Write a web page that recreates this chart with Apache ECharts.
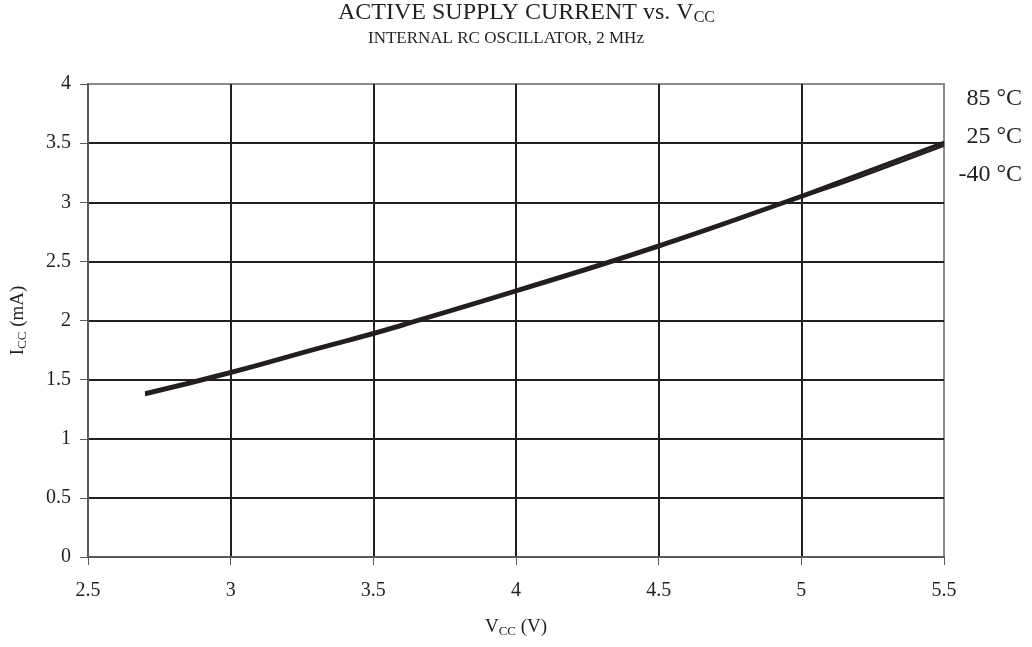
<!DOCTYPE html>
<html>
<head>
<meta charset="utf-8">
<script src="https://cdn.jsdelivr.net/npm/echarts@6/dist/echarts.min.js"></script>
<style>html,body{margin:0;padding:0;background:#fff}#c{width:1032px;height:647px}</style>
</head>
<body>
<div id="c"></div>
<script>
const vcc = [2.7, 3.0, 3.3, 3.5, 3.6, 4.0, 4.5, 5.0, 5.2, 5.5];
const icc85 = [1.39, 1.57, 1.77, 1.90, 1.97, 2.26, 2.64, 3.06, 3.24, 3.51];
const icc25 = [1.38, 1.56, 1.76, 1.89, 1.96, 2.25, 2.63, 3.05, 3.23, 3.50];
const iccm40 = [1.37, 1.55, 1.75, 1.88, 1.95, 2.24, 2.62, 3.04, 3.21, 3.48];
const seriesNames = ['85 °C', '25 °C', '-40 °C'];
const xTicks = [2.5, 3, 3.5, 4, 4.5, 5, 5.5];
const yTicks = [0, 0.5, 1, 1.5, 2, 2.5, 3, 3.5, 4];

const font = '"Liberation Serif", "Times New Roman", serif';
const lineColor = '#231f20';
const textColor = '#231f20';
const pair = arr => vcc.map((v, i) => [v, arr[i]]);
const allData = [icc85, icc25, iccm40];

const chart = echarts.init(document.getElementById('c'));
chart.setOption({
  animation: false,
  backgroundColor: '#fff',
  title: [{
    text: 'ACTIVE SUPPLY CURRENT vs. V{sub|CC}',
    left: 338, top: 0, padding: 0,
    textStyle: {
      fontFamily: font, fontSize: 24, fontWeight: 'normal', color: textColor,
      rich: { sub: { fontFamily: font, fontSize: 16, color: textColor, padding: [10, 0, 0, 0] } }
    }
  }, {
    text: 'INTERNAL RC OSCILLATOR, 2 MHz',
    left: 368, top: 30, padding: 0,
    textStyle: { fontFamily: font, fontSize: 17, fontWeight: 'normal', color: textColor }
  }],
  grid: { left: 88, right: 88, top: 84, bottom: 90, show: true, borderColor: '#8a8a8a', borderWidth: 2 },
  xAxis: {
    type: 'value', min: 2.5, max: 5.5, interval: 0.5,
    name: 'V{sub|CC} (V)', nameLocation: 'middle', nameGap: 60,
    nameTextStyle: { fontFamily: font, fontSize: 19, color: textColor,
      rich: { sub: { fontFamily: font, fontSize: 13, color: textColor, padding: [8, 0, 0, 0] } } },
    axisLine: { lineStyle: { color: '#5a5a5a', width: 2 } },
    axisTick: { show: true, length: 8, lineStyle: { color: '#5a5a5a' } },
    axisLabel: { fontFamily: font, fontSize: 20, color: textColor, margin: 24,
      formatter: v => String(xTicks.find(t => Math.abs(t - v) < 1e-9) ?? v) },
    splitLine: { show: true, showMinLine: false, showMaxLine: false, lineStyle: { color: lineColor, width: 2 } }
  },
  yAxis: {
    type: 'value', min: 0, max: 4, interval: 0.5,
    name: 'I{sub|CC} (mA)', nameLocation: 'middle', nameGap: 59,
    nameTextStyle: { fontFamily: font, fontSize: 19, color: textColor,
      rich: { sub: { fontFamily: font, fontSize: 13, color: textColor, padding: [8, 0, 0, 0] } } },
    axisLine: { show: true, lineStyle: { color: '#5a5a5a', width: 2 } },
    axisTick: { show: true, length: 8, lineStyle: { color: '#5a5a5a' } },
    axisLabel: { fontFamily: font, fontSize: 20, color: textColor, margin: 17,
      formatter: v => String(yTicks.find(t => Math.abs(t - v) < 1e-9) ?? v) },
    splitLine: { show: true, showMinLine: false, showMaxLine: false, lineStyle: { color: lineColor, width: 2 } }
  },
  series: seriesNames.map((n, i) => ({
    name: n, type: 'line', data: pair(allData[i]), showSymbol: false, smooth: true,
    lineStyle: { color: lineColor, width: 2.6 }, z: 5
  })),
  graphic: seriesNames.map((n, i) => ({
    type: 'text', right: 10, top: 87 + i * 38,
    style: { text: n, font: '24px ' + font, fill: textColor }
  }))
});
</script>
</body>
</html>
